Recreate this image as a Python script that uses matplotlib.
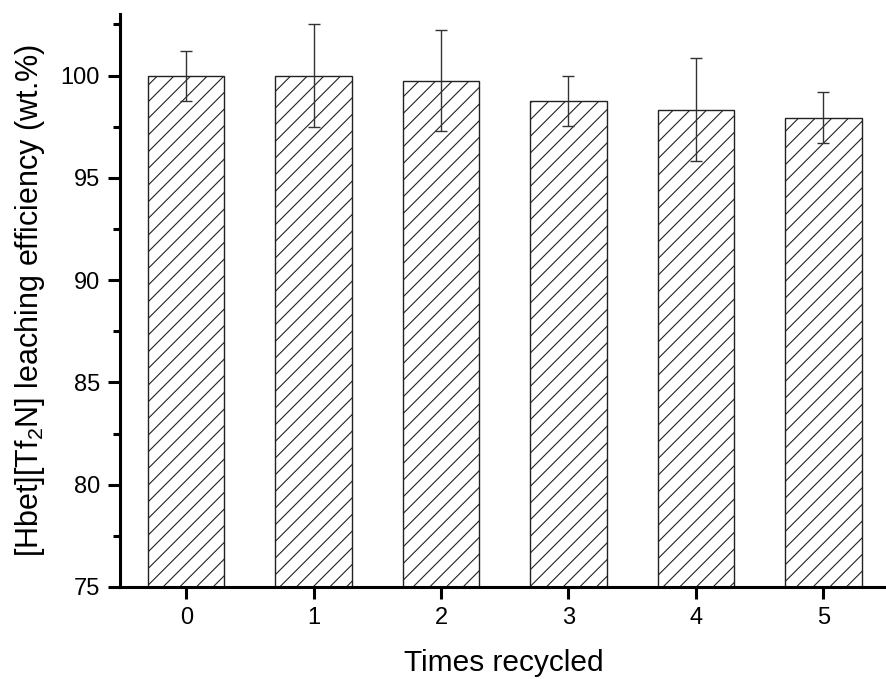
import matplotlib
matplotlib.use("Agg")
import matplotlib.pyplot as plt
from matplotlib.ticker import MultipleLocator

plt.rcParams['font.family'] = ['Liberation Sans', 'DejaVu Sans']
plt.rcParams['mathtext.fontset'] = 'custom'
plt.rcParams['mathtext.rm'] = 'Liberation Sans'
plt.rcParams['mathtext.default'] = 'regular'
plt.rcParams['hatch.linewidth'] = 0.8
plt.rcParams['hatch.color'] = '#444444'

cycles = [0, 1, 2, 3, 4, 5]
efficiency = [100.0, 100.0, 99.76, 98.78, 98.34, 97.95]
errors = [1.22, 2.5, 2.47, 1.22, 2.51, 1.25]

fig = plt.figure(figsize=(8.87, 6.79), dpi=100)
ax = fig.add_axes([0.1353, 0.1355, 0.8647, 0.8435])

ax.bar(cycles, [e - 75 for e in efficiency], bottom=75, width=0.6,
       facecolor='white', edgecolor='#222222', linewidth=1.0, hatch='//', zorder=2)
ax.errorbar(cycles, efficiency, yerr=errors, fmt='none', ecolor='#333333',
            elinewidth=1.0, capsize=4.5, capthick=1.0, zorder=3)

ax.set_xlim(-0.52, 5.5)
ax.set_ylim(75, 103)
ax.set_xticks(cycles)
ax.yaxis.set_major_locator(MultipleLocator(5))
ax.yaxis.set_minor_locator(MultipleLocator(2.5))

for s in ['top', 'right']:
    ax.spines[s].set_visible(False)
for s in ['left', 'bottom']:
    ax.spines[s].set_linewidth(2.2)

ax.tick_params(axis='both', which='major', direction='out', length=8.5, width=2.2,
               labelsize=17, pad=6)
ax.tick_params(axis='y', which='minor', direction='out', length=5, width=2.2)

ax.set_xlabel('Times recycled', fontsize=21.5, labelpad=14)
ax.set_ylabel('[Hbet][Tf$_2$N] leaching efficiency (wt.%)', fontsize=22, labelpad=10)

fig.savefig('out.png', dpi=100)
